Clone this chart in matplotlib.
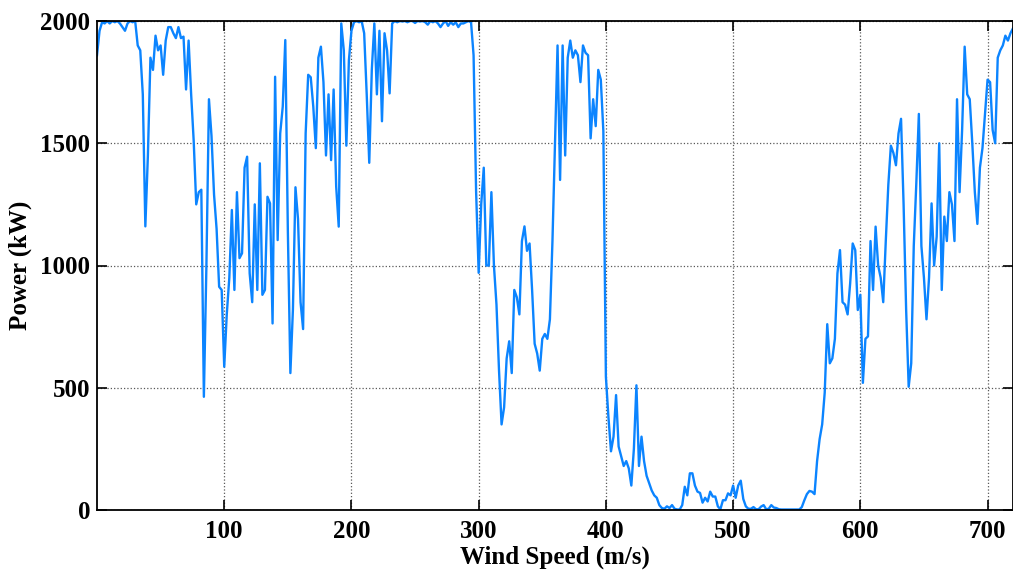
import numpy as np
import matplotlib
matplotlib.use('Agg')
import matplotlib.pyplot as plt

# power samples, read every 2 units along the x axis (0 .. 720)
power = [
    1860, 1960, 1995, 1990, 2000, 1990, 2000, 1995, 2000, 1990,
    1975, 1960, 1990, 2000, 1995, 2000, 1900, 1880, 1700, 1160,
    1450, 1850, 1800, 1940, 1880, 1900, 1780, 1920, 1975, 1975,
    1950, 1930, 1975, 1930, 1936, 1720, 1920, 1700, 1510, 1250,
    1300, 1310, 463, 1000, 1680, 1530, 1290, 1150, 913, 900,
    586, 800, 950, 1227, 900, 1300, 1030, 1050, 1400, 1445,
    968, 850, 1250, 900, 1418, 880, 900, 1281, 1254, 763,
    1772, 1104, 1540, 1650, 1922, 1145, 560, 820, 1320, 1190,
    850, 740, 1540, 1780, 1770, 1650, 1480, 1850, 1895, 1750,
    1450, 1700, 1431, 1720, 1323, 1159, 1990, 1880, 1490, 1840,
    1960, 1995, 2000, 1995, 2000, 1950, 1700, 1420, 1800, 1990,
    1700, 1960, 1590, 1950, 1880, 1704, 1990, 2000, 1995, 2000,
    1998, 2000, 1995, 2000, 2000, 1992, 2000, 1998, 2000, 1995,
    1985, 2000, 1995, 2000, 1990, 1975, 1990, 2000, 1980, 1995,
    1985, 1995, 1975, 1990, 1990, 1995, 2000, 1995, 1860, 1300,
    970, 1250, 1400, 1000, 1000, 1300, 1000, 840, 570, 350,
    420, 620, 690, 560, 900, 870, 800, 1100, 1160, 1060,
    1090, 900, 680, 640, 570, 700, 720, 700, 780, 1100,
    1500, 1900, 1350, 1900, 1450, 1850, 1920, 1850, 1880, 1860,
    1750, 1900, 1870, 1860, 1520, 1680, 1570, 1800, 1760, 1550,
    545, 380, 240, 300, 470, 260, 220, 180, 200, 170,
    100, 250, 510, 180, 300, 200, 140, 110, 80, 60,
    50, 20, 8, 5, 15, 8, 20, 5, 2, 2,
    20, 95, 60, 150, 150, 100, 75, 70, 30, 50,
    35, 75, 55, 55, 15, 3, 40, 40, 68, 60,
    100, 50, 100, 120, 45, 15, 5, 5, 12, 3,
    3, 14, 20, 3, 5, 20, 10, 8, 3, 2,
    2, 2, 2, 2, 2, 2, 2, 12, 40, 65,
    78, 75, 65, 200, 290, 350, 480, 760, 600, 620,
    700, 968, 1063, 850, 840, 800, 927, 1090, 1063, 818,
    880, 520, 700, 710, 1100, 900, 1159, 1000, 950, 850,
    1100, 1330, 1490, 1460, 1410, 1540, 1600, 1250, 820, 504,
    600, 1080, 1336, 1620, 1080, 950, 780, 950, 1254, 1000,
    1118, 1500, 900, 1200, 1100, 1300, 1250, 1100, 1680, 1300,
    1554, 1895, 1700, 1680, 1500, 1300, 1170, 1400, 1480, 1620,
    1760, 1750, 1554, 1500, 1850, 1880, 1900, 1940, 1920, 1950,
    1970,
]
speed = np.arange(0, 2 * len(power), 2)

x_ticks = [100, 200, 300, 400, 500, 600, 700]
y_ticks = [0, 500, 1000, 1500, 2000]

plt.rcParams['font.family'] = ['Liberation Serif', 'DejaVu Serif']
plt.rcParams['font.weight'] = 'bold'
plt.rcParams['font.size'] = 18

fig = plt.figure(figsize=(10.13, 5.71), dpi=100)
ax = fig.add_axes([97 / 1013, 61 / 571, 916 / 1013, 489 / 571])

ax.plot(speed, power, color='#0b84ff', lw=1.7)

ax.set_xlim(0, 720)
ax.set_ylim(0, 2000)
ax.set_xticks(x_ticks)
ax.set_yticks(y_ticks)
ax.grid(True, ls=':', color='0.35', lw=0.9)
ax.tick_params(direction='in', length=7, width=1.2, top=True, right=True)
ax.tick_params(axis='x', pad=7)
ax.tick_params(axis='y', pad=5)
for sp in ax.spines.values():
    sp.set_linewidth(1.3)

ax.set_xlabel('Wind Speed (m/s)', fontweight='bold', labelpad=2)
ax.set_ylabel('Power (kW)', fontweight='bold', labelpad=6)

fig.savefig('out.png', dpi=100)
